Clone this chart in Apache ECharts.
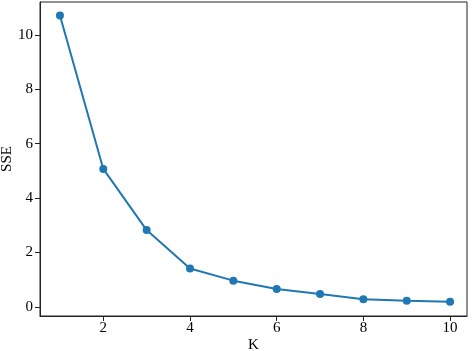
<!DOCTYPE html>
<html><head><meta charset="utf-8">
<script src="https://cdn.jsdelivr.net/npm/echarts@6/dist/echarts.min.js"></script>
<style>html,body{margin:0;padding:0;background:#fff}#c{width:472px;height:351px}</style>
</head><body><div id="c"></div>
<script>
const kValues = [1, 2, 3, 4, 5, 6, 7, 8, 9, 10];
const sseValues = [10.71, 5.07, 2.82, 1.41, 0.96, 0.65, 0.47, 0.28, 0.22, 0.18];
const xTicks = [2, 4, 6, 8, 10];
const yTicks = [0, 2, 4, 6, 8, 10];

const font = 'Liberation Serif, Times New Roman, serif';
const chart = echarts.init(document.getElementById('c'), null, {renderer: 'canvas'});
chart.setOption({
  animation: false,
  grid: {left: 40, right: 5, top: 2, bottom: 35, outerBoundsMode: 'none', containLabel: false,
         show: true, borderColor: '#222', borderWidth: 1, backgroundColor: 'transparent'},
  xAxis: {
    type: 'value', min: 0.54, max: 10.39,
    name: 'K', nameLocation: 'middle', nameGap: 22, nameMoveOverlap: false,
    nameTextStyle: {fontFamily: font, fontSize: 15, color: '#000'},
    axisLine: {show: true, onZero: false, lineStyle: {color: '#222', width: 1}},
    axisTick: {show: true, length: 5, lineStyle: {color: '#222'}, customValues: xTicks},
    axisLabel: {fontFamily: font, fontSize: 15, color: '#000', margin: 5, customValues: xTicks},
    splitLine: {show: false}
  },
  yAxis: {
    type: 'value', min: -0.34, max: 11.21,
    name: 'SSE', nameLocation: 'middle', nameGap: 25, nameRotate: 90, nameMoveOverlap: false,
    nameTextStyle: {fontFamily: font, fontSize: 15, color: '#000'},
    axisLine: {show: true, onZero: false, lineStyle: {color: '#222', width: 1}},
    axisTick: {show: true, length: 5, lineStyle: {color: '#222'}, customValues: yTicks},
    axisLabel: {fontFamily: font, fontSize: 15, color: '#000', margin: 7, customValues: yTicks},
    splitLine: {show: false}
  },
  series: [{
    type: 'line',
    data: kValues.map((k, i) => [k, sseValues[i]]),
    symbol: 'circle', symbolSize: 8,
    lineStyle: {color: '#1f77b4', width: 2},
    itemStyle: {color: '#1f77b4'}
  }]
});
</script></body></html>
